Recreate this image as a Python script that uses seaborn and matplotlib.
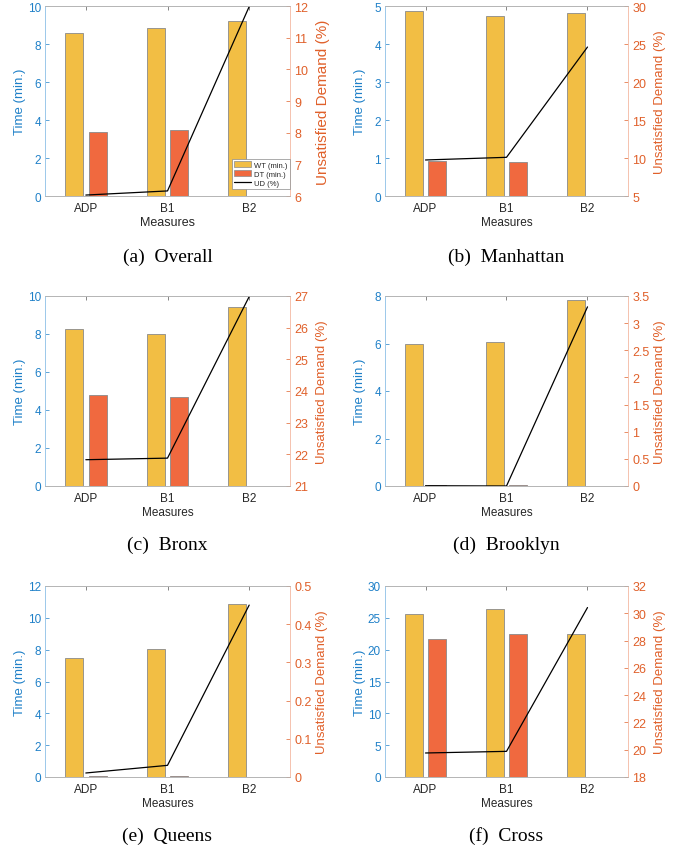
import numpy as np
import pandas as pd
import seaborn as sns
import matplotlib.pyplot as plt
from matplotlib.patches import Patch
from matplotlib.lines import Line2D
from matplotlib.ticker import MultipleLocator, FormatStrFormatter

measures = ['ADP', 'B1', 'B2']
series_names = ['WT (min.)', 'DT (min.)']

# Werte je Region: Wartezeit, Fahrzeit, nicht bediente Nachfrage
wt_overall = [8.56, 8.86, 9.22]
dt_overall = [3.39, 3.49, np.nan]
ud_overall = [6.03, 6.16, 11.98]

wt_manhattan = [4.88, 4.75, 4.82]
dt_manhattan = [0.91, 0.89, np.nan]
ud_manhattan = [9.74, 10.09, 24.6]

wt_bronx = [8.27, 8.02, 9.41]
dt_bronx = [4.79, 4.69, np.nan]
ud_bronx = [21.83, 21.88, 26.98]

wt_brooklyn = [5.97, 6.06, 7.85]
dt_brooklyn = [0.03, 0.03, np.nan]
ud_brooklyn = [0.005, 0.0, 3.30]

wt_queens = [7.48, 8.04, 10.87]
dt_queens = [0.08, 0.07, np.nan]
ud_queens = [0.0105, 0.0305, 0.45]

wt_cross = [25.6, 26.4, 22.46]
dt_cross = [21.7, 22.46, np.nan]
ud_cross = [19.76, 19.88, 30.42]

COL_WT = '#F2BE44'
COL_DT = '#F0693F'
COL_LEFT = '#1f80c8'
COL_RIGHT = '#e0602a'

sns.set_theme(style='white')
plt.rcParams['font.family'] = ['Liberation Sans', 'DejaVu Sans']

fig = plt.figure(figsize=(6.85, 8.53), dpi=100)
W, H = 685, 853

# (Beschriftung, WT, DT, UD, linke Achse, rechte Achse, Pixelbox, Unterschrift-y)
panels = [
    ('(a)  Overall', wt_overall, dt_overall, ud_overall, (0, 10, 2), (6, 12, 1), (45, 7, 290, 197), 257),
    ('(b)  Manhattan', wt_manhattan, dt_manhattan, ud_manhattan, (0, 5, 1), (5, 30, 5), (385, 7, 628, 197), 257),
    ('(c)  Bronx', wt_bronx, dt_bronx, ud_bronx, (0, 10, 2), (21, 27, 1), (45, 297, 290, 487), 545),
    ('(d)  Brooklyn', wt_brooklyn, dt_brooklyn, ud_brooklyn, (0, 8, 2), (0, 3.5, 0.5), (385, 297, 628, 487), 545),
    ('(e)  Queens', wt_queens, dt_queens, ud_queens, (0, 12, 2), (0, 0.5, 0.1), (45, 587, 290, 778), 836),
    ('(f)  Cross', wt_cross, dt_cross, ud_cross, (0, 30, 5), (18, 32, 2), (385, 587, 628, 778), 836),
]

for i, (caption, wt, dt, ud, lim_l, lim_r, box, cap_y) in enumerate(panels):
    x0, y0, x1, y1 = box
    ax = fig.add_axes([x0 / W, 1 - y1 / H, (x1 - x0) / W, (y1 - y0) / H])

    df = pd.DataFrame({
        'Measure': measures * 2,
        'Series': [series_names[0]] * 3 + [series_names[1]] * 3,
        'Value': list(wt) + list(dt),
    }).dropna()

    sns.barplot(data=df, x='Measure', y='Value', hue='Series', order=measures,
                hue_order=series_names, palette=[COL_WT, COL_DT], width=0.58, gap=0.25,
                edgecolor='#8a8a8a', linewidth=0.6, errorbar=None, legend=False,
                saturation=1, ax=ax)

    ax2 = ax.twinx()
    sns.lineplot(x=np.arange(len(measures)), y=ud, color='black', linewidth=0.9, ax=ax2)

    ax.set_xlim(-0.5, 2.5)
    ax.set_ylim(lim_l[0], lim_l[1])
    ax.yaxis.set_major_locator(MultipleLocator(lim_l[2]))
    ax2.set_ylim(lim_r[0], lim_r[1])
    ax2.yaxis.set_major_locator(MultipleLocator(lim_r[2]))
    ax2.yaxis.set_major_formatter(FormatStrFormatter('%g'))

    big = (i == 0)
    wpx = x1 - x0
    ax.set_xlabel('Measures', fontsize=9 if big else 8.5, color='#262626', labelpad=2)
    ax.set_ylabel('Time (min.)', fontsize=9.5, color=COL_LEFT)
    ax.yaxis.set_label_coords(-19 / wpx, 0.5)
    ax2.set_ylabel('Unsatisfied Demand (%)', fontsize=11 if big else 9.5, color=COL_RIGHT)
    ax2.yaxis.set_label_coords(1 + 26 / wpx, 0.5)

    ax.tick_params(axis='x', direction='in', top=True, length=3, width=0.5,
                   color='#555555', labelsize=8.5, labelcolor='#262626', pad=4)
    ax.tick_params(axis='y', direction='in', length=3, width=0.5, color=COL_LEFT,
                   labelsize=8.5, labelcolor=COL_LEFT, pad=3)
    ax2.tick_params(axis='y', direction='in', length=3, width=0.5, color=COL_RIGHT,
                    labelsize=9, labelcolor=COL_RIGHT, pad=3)

    for a in (ax, ax2):
        for side in ('top', 'bottom'):
            a.spines[side].set_color('#b5b5b5')
            a.spines[side].set_linewidth(0.6)
        a.spines['left'].set_color('#9cc8ea')
        a.spines['right'].set_color('#f5c2ae')
        a.spines['left'].set_linewidth(0.6)
        a.spines['right'].set_linewidth(0.6)

    if big:
        handles = [Patch(facecolor=COL_WT, edgecolor='#8a8a8a', linewidth=0.5),
                   Patch(facecolor=COL_DT, edgecolor='#8a8a8a', linewidth=0.5),
                   Line2D([], [], color='black', linewidth=0.9)]
        leg = ax2.legend(handles, series_names + ['UD (%)'], loc='lower right',
                         bbox_to_anchor=(1.0, 0.037), borderaxespad=0, fontsize=5.5,
                         handlelength=2.2, handleheight=0.9, handletextpad=0.4,
                         labelspacing=0.15, borderpad=0.3, fancybox=False, framealpha=1)
        leg.get_frame().set_edgecolor('#8a8a8a')
        leg.get_frame().set_linewidth(0.5)

    fig.text(((x0 + x1) / 2) / W, 1 - cap_y / H, caption, ha='center', va='center',
             family='Liberation Serif', fontsize=14, color='black')

fig.savefig('out.png', dpi=100)
